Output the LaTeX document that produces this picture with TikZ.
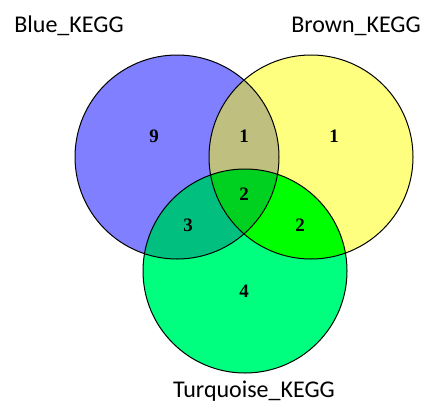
\documentclass[tikz,border=0pt]{standalone}
\usepackage{fontspec}
\setmainfont{Liberation Serif}
\newfontfamily\labfont{Carlito}
\definecolor{cblue}{HTML}{7F7FFF}
\definecolor{cyellow}{HTML}{FFFF7F}
\definecolor{cgreen}{HTML}{00FF7F}
\definecolor{cby}{HTML}{BFBF7F}
\definecolor{cbg}{HTML}{00BF7F}
\definecolor{cyg}{HTML}{00FF00}
\definecolor{cbyg}{HTML}{00D020}
\tikzset{
  setlabel/.style={font=\labfont\fontsize{24}{28}\selectfont, inner sep=0pt, anchor=base},
  count/.style={font=\bfseries\fontsize{19}{22}\selectfont, inner sep=0pt},
  ring/.style={draw=black, line width=1pt}
}
\begin{document}
\begin{tikzpicture}[x=1pt,y=-1pt]
\useasboundingbox (0,0) rectangle (430,407);
\def\R{102}
\coordinate (B) at (177,157);
\coordinate (Y) at (311,157);
\coordinate (G) at (245,271);
\fill[cblue] (B) circle (\R);
\fill[cyellow] (Y) circle (\R);
\fill[cgreen] (G) circle (\R);
\begin{scope}
  \clip (B) circle (\R);
  \fill[cby] (Y) circle (\R);
  \fill[cbg] (G) circle (\R);
\end{scope}
\begin{scope}
  \clip (Y) circle (\R);
  \fill[cyg] (G) circle (\R);
\end{scope}
\begin{scope}
  \clip (B) circle (\R);
  \clip (Y) circle (\R);
  \fill[cbyg] (G) circle (\R);
\end{scope}
\draw[ring] (B) circle (\R);
\draw[ring] (Y) circle (\R);
\draw[ring] (G) circle (\R);
\node[setlabel] (lb) at (69,32) {Blue\_KEGG};
\node[setlabel] (ly) at (356,32) {Brown\_KEGG};
\node[setlabel] (lg) at (254,397) {Turquoise\_KEGG};
\node[count] (n9) at (154,136) {9};
\node[count] (nby) at (244,136) {1};
\node[count] (ny) at (334,136) {1};
\node[count] (nbyg) at (244,194) {2};
\node[count] (nbg) at (188,225) {3};
\node[count] (nyg) at (300,225) {2};
\node[count] (ng) at (244,291) {4};
\end{tikzpicture}
\end{document}
